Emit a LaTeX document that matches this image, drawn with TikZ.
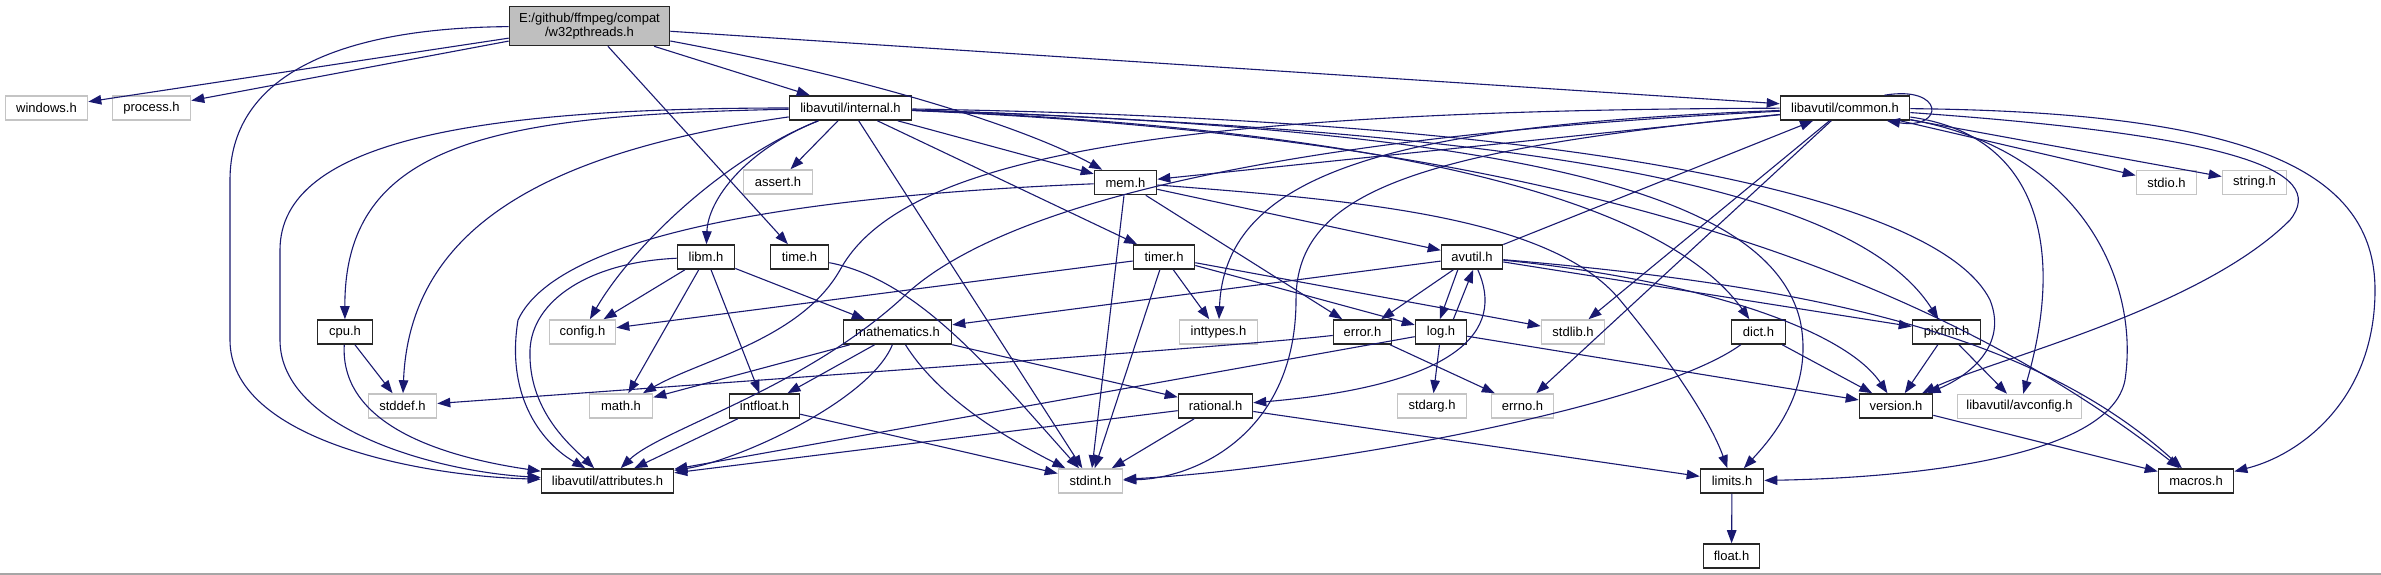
\documentclass[tikz,border=0pt]{standalone}
\usepackage{fontspec}
\setmainfont{Liberation Sans}
\usetikzlibrary{arrows.meta}
\definecolor{edgec}{HTML}{191970}
\definecolor{ghost}{HTML}{C4C4C4}
\definecolor{rootfill}{HTML}{BFBFBF}
\tikzset{
  doc/.style={draw=black!85, line width=1.6pt, fill=white, minimum height=24pt, inner sep=0pt, font=\fontsize{13}{14.5}\selectfont},
  ext/.style={doc, draw=ghost},
  dep/.style={draw=edgec, line width=1.1pt, -{Triangle[length=13pt,width=9.5pt]}},
}
\begin{document}
\begin{tikzpicture}[x=1pt,y=-1pt]
\fill[white] (0,0) rectangle (2381,575);
\useasboundingbox (0,0) rectangle (2381,575);
\draw[gray!70, line width=1.5pt] (0,574) -- (2381,574);

% rank 0
\node[doc, fill=rootfill, minimum width=160pt, minimum height=39pt, align=center] (w32) at (589.5,26) {E:/github/ffmpeg/compat\\/w32pthreads.h};
% rank 1
\node[ext, minimum width=82pt] (windows) at (46.5,108) {windows.h};
\node[ext, minimum width=78pt] (process) at (151.5,108) {process.h};
\node[doc, minimum width=122pt] (internal) at (850.5,108) {libavutil/internal.h};
\node[doc, minimum width=129pt] (common) at (1845,108) {libavutil/common.h};
% rank 2
\node[ext, minimum width=69pt] (assert) at (778,182) {assert.h};
\node[doc, minimum width=62pt] (mem) at (1125.5,182.5) {mem.h};
\node[ext, minimum width=60pt] (stdio) at (2166.5,182.5) {stdio.h};
\node[ext, minimum width=64pt] (string) at (2254.5,182.5) {string.h};
% rank 3
\node[doc, minimum width=57pt] (libm) at (706,257) {libm.h};
\node[doc, minimum width=58pt] (time) at (799.5,257) {time.h};
\node[doc, minimum width=61pt] (timer) at (1164,257) {timer.h};
\node[doc, minimum width=61pt] (avutil) at (1472,257) {avutil.h};
% rank 4
\node[doc, minimum width=55pt] (cpu) at (345,332) {cpu.h};
\node[ext, minimum width=66pt] (config) at (582.5,332) {config.h};
\node[doc, minimum width=108pt] (mathematics) at (897.5,332) {mathematics.h};
\node[ext, minimum width=78pt] (inttypes) at (1218.5,332) {inttypes.h};
\node[doc, minimum width=58pt] (error) at (1362.5,332) {error.h};
\node[doc, minimum width=51pt] (log) at (1441,332) {log.h};
\node[ext, minimum width=63pt] (stdlib) at (1573,332) {stdlib.h};
\node[doc, minimum width=54pt] (dict) at (1758.5,332) {dict.h};
\node[doc, minimum width=68pt] (pixfmt) at (1946.5,332) {pixfmt.h};
% rank 5
\node[ext, minimum width=68pt] (stddef) at (402.5,406) {stddef.h};
\node[ext, minimum width=63pt] (math) at (621,406) {math.h};
\node[doc, minimum width=70pt] (intfloat) at (764.5,406) {intfloat.h};
\node[doc, minimum width=74pt] (rational) at (1215.5,406) {rational.h};
\node[ext, minimum width=69pt] (stdarg) at (1432,406) {stdarg.h};
\node[ext, minimum width=62pt] (errno) at (1522.5,406) {errno.h};
\node[doc, minimum width=73pt] (version) at (1896,406) {version.h};
\node[ext, minimum width=124pt] (avconfig) at (2019.5,406.5) {libavutil/avconfig.h};
% rank 6
\node[doc, minimum width=132pt] (attr) at (607.5,481) {libavutil/attributes.h};
\node[ext, minimum width=64pt] (stdint) at (1090.5,481) {stdint.h};
\node[doc, minimum width=63pt] (limits) at (1732,481) {limits.h};
\node[doc, minimum width=75pt] (macros) at (2196,481) {macros.h};
% rank 7
\node[doc, minimum width=56pt] (float) at (1731.5,556) {float.h};

% ---- edges from w32pthreads.h
\draw[dep] (w32) -- (windows);
\draw[dep] (w32) -- (process);
\draw[dep] (w32) .. controls (330,28) and (230,80) .. (230,180) -- (230,340) .. controls (230,440) and (420,476) .. (attr);
\draw[dep] (w32) -- (internal);
\draw[dep] (w32) .. controls (880,80) and (1030,130) .. (mem);
\draw[dep] (w32) -- (time);
\draw[dep] (w32) -- (common);

% ---- internal.h
\draw[dep] (internal) -- (assert);
\draw[dep] (internal) .. controls (745,150) and (708,200) .. (libm);
\draw[dep] (internal) .. controls (720,160) and (630,250) .. (config);
\draw[dep] (internal) .. controls (500,115) and (344,140) .. (cpu);
\draw[dep] (internal) .. controls (480,108) and (280,140) .. (280,250) -- (280,340) .. controls (280,430) and (440,472) .. (attr);
\draw[dep] (internal) .. controls (560,150) and (410,220) .. (stddef);
\draw[dep] (internal) -- (stdint);
\draw[dep] (internal) -- (timer);
\draw[dep] (internal) -- (mem);
\draw[dep] (internal) .. controls (1300,125) and (1650,180) .. (dict);
\draw[dep] (internal) .. controls (1500,130) and (1850,180) .. (pixfmt);
\draw[dep] (internal) .. controls (1600,120) and (1940,200) .. (1990,300) .. controls (2010,350) and (1960,380) .. (version);
\draw[dep] (internal) .. controls (1550,130) and (1770,200) .. (1800,320) .. controls (1815,390) and (1770,440) .. (limits);
\draw[dep] (internal) .. controls (1500,135) and (1900,250) .. (macros);

% ---- common.h
\draw[dep] (common.18) .. controls (1945,85) and (1945,130) .. (common.-17);
\draw[dep] (common) -- (stdio);
\draw[dep] (common) -- (string);
\draw[dep] (common) -- (mem);
\draw[dep] (common) .. controls (1400,125) and (1225,170) .. (inttypes);
\draw[dep] (common) .. controls (1420,150) and (1296,190) .. (1296,300) .. controls (1296,430) and (1200,478) .. (stdint);
\draw[dep] (common) .. controls (1150,110) and (900,160) .. (840,270) .. controls (800,340) and (700,360) .. (math);
\draw[dep] (common) .. controls (1300,135) and (1000,200) .. (900,300) .. controls (800,390) and (660,430) .. (attr);
\draw[dep] (common) -- (stdlib);
\draw[dep] (common) -- (errno);
\draw[dep] (common) .. controls (2230,135) and (2330,170) .. (2290,220) .. controls (2200,310) and (1990,360) .. (version);
\draw[dep] (common) .. controls (2040,135) and (2065,250) .. (avconfig);
\draw[dep] (common) .. controls (2080,150) and (2140,280) .. (2125,380) .. controls (2110,460) and (1900,478) .. (limits);
\draw[dep] (common) .. controls (2250,112) and (2375,170) .. (2375,290) .. controls (2375,400) and (2300,455) .. (macros);

% ---- avutil.h
\draw[dep] (avutil) -- (common);
\draw[dep] (avutil) -- (error);
\draw[dep] (avutil.222) -- (log.95);
\draw[dep] (avutil) -- (mathematics);
\draw[dep] (avutil) .. controls (1505,330) and (1460,385) .. (rational);
\draw[dep] (avutil) .. controls (1700,280) and (1845,330) .. (version);
\draw[dep] (avutil) .. controls (1800,285) and (2030,330) .. (macros);
\draw[dep] (avutil) -- (pixfmt);

% ---- mem.h
\draw[dep] (mem) -- (avutil);
\draw[dep] (mem) -- (error);
\draw[dep] (mem) -- (stdint);
\draw[dep] (mem) .. controls (820,195) and (560,230) .. (518,320) .. controls (505,400) and (545,445) .. (attr);
\draw[dep] (mem) .. controls (1350,200) and (1550,215) .. (1620,300) .. controls (1670,360) and (1710,420) .. (limits);

% ---- timer.h
\draw[dep] (timer) -- (config);
\draw[dep] (timer) -- (inttypes);
\draw[dep] (timer) -- (stdint);
\draw[dep] (timer) -- (log);
\draw[dep] (timer) -- (stdlib);

% ---- libm.h
\draw[dep] (libm) -- (config);
\draw[dep] (libm) -- (math);
\draw[dep] (libm) -- (intfloat);
\draw[dep] (libm) -- (mathematics);
\draw[dep] (libm) .. controls (590,262) and (532,300) .. (530,350) .. controls (528,410) and (570,445) .. (attr);

% ---- time.h
\draw[dep] (time) .. controls (920,280) and (995,375) .. (stdint);

% ---- cpu.h
\draw[dep] (cpu) -- (stddef);
\draw[dep] (cpu) .. controls (340,420) and (430,455) .. (attr);

% ---- mathematics.h
\draw[dep] (mathematics) -- (math);
\draw[dep] (mathematics) -- (intfloat);
\draw[dep] (mathematics) .. controls (870,400) and (740,460) .. (attr);
\draw[dep] (mathematics) .. controls (940,400) and (1010,440) .. (stdint);
\draw[dep] (mathematics) -- (rational);

% ---- log.h
\draw[dep] (log.46) -- (avutil.275);
\draw[dep] (log) -- (stdarg);
\draw[dep] (log) -- (version);
\draw[dep] (log) -- (attr);

% ---- error.h
\draw[dep] (error) -- (errno);
\draw[dep] (error) .. controls (1250,345) and (900,370) .. (stddef);

% ---- dict.h / pixfmt.h
\draw[dep] (dict) .. controls (1650,410) and (1300,470) .. (stdint);
\draw[dep] (dict) -- (version);
\draw[dep] (pixfmt) -- (version);
\draw[dep] (pixfmt) -- (avconfig);

% ---- rational.h / intfloat.h
\draw[dep] (rational) -- (stdint);
\draw[dep] (rational) -- (attr);
\draw[dep] (rational) -- (limits);
\draw[dep] (intfloat) -- (stdint);
\draw[dep] (intfloat) -- (attr);

% ---- version.h / limits.h
\draw[dep] (version) -- (macros);
\draw[dep] (limits) -- (float);
\end{tikzpicture}
\end{document}
